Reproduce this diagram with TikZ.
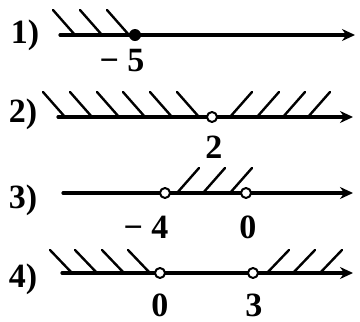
\documentclass[tikz,border=0pt]{standalone}
\usepackage{fontspec}
\setmainfont{Liberation Serif}
\usetikzlibrary{arrows.meta}

\begin{document}
\begin{tikzpicture}[x=1pt,y=-1pt,>={Stealth[length=13pt,width=12pt]},
    line cap=round,line join=round,
    axis/.style={->,line width=3.2pt},
    hatch/.style={line width=2.4pt},
    opendot/.style={circle,draw,fill=white,line width=2pt,inner sep=0pt,
      minimum size=10pt},
    fulldot/.style={circle,fill,inner sep=0pt,minimum size=12pt},
    lbl/.style={font=\bfseries\fontsize{34}{36}\selectfont,inner sep=0pt}]
    \useasboundingbox (0,0) rectangle (360,322);

    % Row 1.
    \coordinate (s1) at (60,35);
    \coordinate (e1) at (355,35);
    \foreach \x in {53,80,107} \draw[hatch] (\x,10) -- ++(22,25);
    \draw[axis] (s1) -- (e1);
    \node[fulldot] (p1) at (135,35) {};
    \node[lbl] (n1) at (25,35) {1)};
    \node[lbl] (v1) at (122,61) {− 5};

    % Row 2.
    \coordinate (s2) at (58,117);
    \coordinate (e2) at (353,117);
    \foreach \x in {43,70,97,123,150,177} \draw[hatch] (\x,92) -- ++(22,25);
    \foreach \x in {230,257,283,308} \draw[hatch] (\x,117) -- ++(22,-25);
    \draw[axis] (s2) -- (e2);
    \node[opendot] (p2) at (212,117) {};
    \node[lbl] (n2) at (23,114) {2)};
    \node[lbl] (v2) at (214,147) {2};

    % Row 3.
    \coordinate (s3) at (63,193);
    \coordinate (e3) at (353,193);
    \foreach \x in {177,203,230} \draw[hatch] (\x,193) -- ++(22,-25);
    \draw[axis] (s3) -- (e3);
    \node[opendot] (p3) at (165,193) {};
    \node[opendot] (q3) at (246,193) {};
    \node[lbl] (n3) at (23,200) {3)};
    \node[lbl] (v3) at (146,227) {− 4};
    \node[lbl] (w3) at (248,227) {0};

    % Row 4.
    \coordinate (s4) at (62,273);
    \coordinate (e4) at (353,273);
    \foreach \x in {50,75,102,128} \draw[hatch] (\x,250) -- ++(22,23);
    \foreach \x in {267,293,320} \draw[hatch] (\x,273) -- ++(22,-23);
    \draw[axis] (s4) -- (e4);
    \node[opendot] (p4) at (160,273) {};
    \node[opendot] (q4) at (253,273) {};
    \node[lbl] (n4) at (23,279) {4)};
    \node[lbl] (v4) at (160,305) {0};
    \node[lbl] (w4) at (254,305) {3};
  \end{tikzpicture}
\end{document}
